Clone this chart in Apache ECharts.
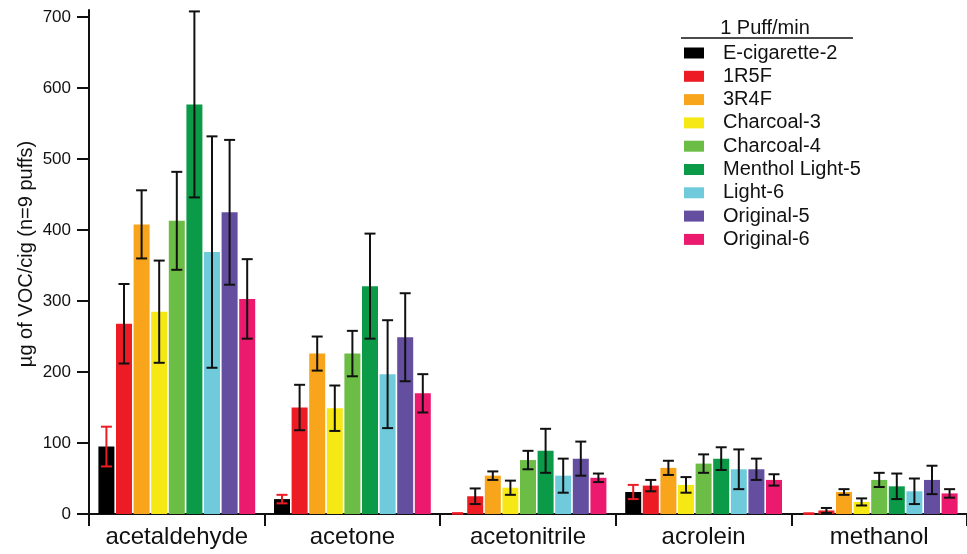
<!DOCTYPE html>
<html>
<head>
<meta charset="utf-8">
<script src="https://cdn.jsdelivr.net/npm/echarts@6/dist/echarts.min.js"></script>
<style>
html,body{margin:0;padding:0;background:#fff;}
#chart{width:967px;height:554px;}
</style>
</head>
<body>
<div id="chart"></div>
<script>
const categories = ['acetaldehyde', 'acetone', 'acetonitrile', 'acrolein', 'methanol'];
const seriesNames = ['E-cigarette-2', '1R5F', '3R4F', 'Charcoal-3', 'Charcoal-4', 'Menthol Light-5', 'Light-6', 'Original-5', 'Original-6'];
const eCigarette2 = [95, 21, 0.8, 31, 0.6];
const r1R5F = [268, 150, 25, 40, 5];
const r3R4F = [408, 226, 54, 65, 31];
const charcoal3 = [285, 149, 37, 41, 17];
const charcoal4 = [413, 226, 76, 71, 48];
const mentholLight5 = [577, 321, 89, 78, 39];
const light6 = [369, 197, 54, 63, 32];
const original5 = [425, 249, 78, 63, 48];
const original6 = [303, 170, 51, 48, 29];
const eCigarette2Err = [28, 6, 0.3, 10, 0.3];
const r1R5FErr = [56, 32, 11, 8, 3.5];
const r3R4FErr = [48, 24, 6, 10, 4];
const charcoal3Err = [72, 32, 10, 11, 5];
const charcoal4Err = [69, 32, 13, 13, 10];
const mentholLight5Err = [131, 74, 31, 16, 18];
const light6Err = [163, 76, 24, 28, 18];
const original5Err = [102, 62, 24, 15, 20];
const original6Err = [56, 27, 6, 8, 6];
const yTicks = [0, 100, 200, 300, 400, 500, 600, 700];
const legendTitle = '1 Puff/min';
const yAxisName = 'µg of VOC/cig (n=9 puffs)';

const values = [eCigarette2, r1R5F, r3R4F, charcoal3, charcoal4, mentholLight5, light6, original5, original6];
const errors = [eCigarette2Err, r1R5FErr, r3R4FErr, charcoal3Err, charcoal4Err, mentholLight5Err, light6Err, original5Err, original6Err];
const colors = ['#000000', '#ED1C24', '#F8A51C', '#F5E815', '#6CBD45', '#0B9A48', '#6FCBDC', '#644EA0', '#EC1A6E'];
const errColors = ['#ED1C24', '#111', '#111', '#111', '#111', '#111', '#111', '#111', '#111'];

const FONT = '"Liberation Sans", Arial, sans-serif';
const BAR_W = 16;
const BAR_GAP = 1.6;
const n = seriesNames.length;

const series = [];
seriesNames.forEach((name, i) => {
  series.push({
    name: name,
    type: 'bar',
    barWidth: BAR_W,
    barGap: '10%',
    itemStyle: { color: colors[i] },
    data: values[i],
    z: 2
  });
});
seriesNames.forEach((name, i) => {
  const offset = (i - (n - 1) / 2) * (BAR_W + BAR_GAP);
  series.push({
    name: name + ' error',
    type: 'custom',
    z: 5,
    silent: true,
    encode: { x: 0, y: 1 },
    data: values[i].map((v, k) => [k, v, errors[i][k]]),
    renderItem: function (params, api) {
      const c = api.value(0), v = api.value(1), e = api.value(2);
      const top = api.coord([c, v + e]);
      const bot = api.coord([c, Math.max(0, v - e)]);
      const x = top[0] + offset;
      const hw = 5.5;
      const st = { stroke: errColors[i], lineWidth: 2 };
      return {
        type: 'group',
        children: [
          { type: 'line', shape: { x1: x, y1: top[1], x2: x, y2: bot[1] }, style: st },
          { type: 'line', shape: { x1: x - hw, y1: top[1], x2: x + hw, y2: top[1] }, style: st },
          { type: 'line', shape: { x1: x - hw, y1: bot[1], x2: x + hw, y2: bot[1] }, style: st }
        ]
      };
    }
  });
});

const chart = echarts.init(document.getElementById('chart'), null, { renderer: 'canvas' });
chart.setOption({
  animation: false,
  backgroundColor: '#fff',
  textStyle: { fontFamily: FONT },
  grid: { left: 89, top: 10, width: 883, bottom: 40, containLabel: false },
  legend: {
    data: seriesNames,
    orient: 'vertical',
    left: 684,
    top: 43,
    padding: 0,
    itemWidth: 20,
    itemHeight: 11,
    itemGap: 3.3,
    icon: 'rect',
    selectedMode: false,
    textStyle: { fontFamily: FONT, fontSize: 20, color: '#111', padding: [0, 0, 0, 14] }
  },
  graphic: [
    { type: 'text', x: 765, y: 28, style: { text: legendTitle, font: '20px ' + FONT, fill: '#111', align: 'center', verticalAlign: 'middle' } },
    { type: 'line', shape: { x1: 681, y1: 38, x2: 853, y2: 38 }, style: { stroke: '#111', lineWidth: 1.5 } }
  ],
  xAxis: {
    type: 'category',
    data: categories,
    axisLine: { lineStyle: { color: '#111', width: 2 } },
    axisTick: { show: true, interval: 0, length: 12, lineStyle: { color: '#111', width: 2 } },
    axisLabel: { fontFamily: FONT, fontSize: 24, color: '#111', margin: 11, interval: 0 }
  },
  yAxis: {
    type: 'value',
    min: 0,
    max: 710,
    interval: 100,
    name: yAxisName,
    nameLocation: 'middle',
    nameGap: 53,
    nameMoveOverlap: false,
    nameTextStyle: { fontFamily: FONT, fontSize: 20, color: '#111', padding: [0, 0, 0, 16] },
    splitLine: { show: false },
    axisLine: { show: true, lineStyle: { color: '#111', width: 2 } },
    axisTick: { show: true, length: 12, lineStyle: { color: '#111', width: 2 }, customValues: yTicks },
    axisLabel: { fontFamily: FONT, fontSize: 17, color: '#111', margin: 18, customValues: yTicks }
  },
  series: series
});
</script>
</body>
</html>
